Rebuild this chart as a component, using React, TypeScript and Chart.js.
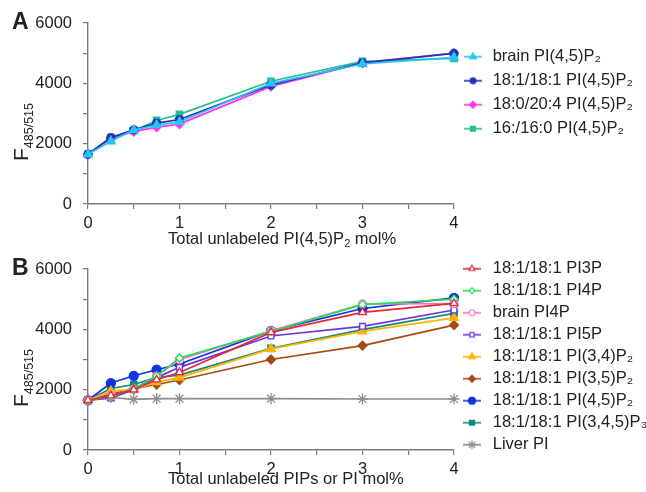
import React, { useEffect, useRef } from 'react';
import { Chart, registerables, PointElement } from 'chart.js';

Chart.register(...registerables);

// ---------- data ----------
const X_VALUES = [0, 0.25, 0.5, 0.75, 1, 2, 3, 4];
const X_TICKS = [0, 1, 2, 3, 4];
const Y_TICKS = [0, 2000, 4000, 6000];

const A_LABELS = ['brain PI(4,5)P₂', '18:1/18:1 PI(4,5)P₂', '18:0/20:4 PI(4,5)P₂', '16:/16:0 PI(4,5)P₂'];
const A_BRAIN_PIP2 = [1650, 2080, 2450, 2620, 2720, 4000, 4640, 4860];
const A_181_PIP2 = [1650, 2200, 2460, 2680, 2800, 3950, 4680, 4990];
const A_180_PIP2 = [1650, 2170, 2400, 2550, 2650, 3900, 4680, 5000];
const A_160_PIP2 = [1650, 2200, 2430, 2770, 2970, 4070, 4730, 4830];

const B_LABELS = [
  '18:1/18:1 PI3P',
  '18:1/18:1 PI4P',
  'brain PI4P',
  '18:1/18:1 PI5P',
  '18:1/18:1 PI(3,4)P₂',
  '18:1/18:1 PI(3,5)P₂',
  '18:1/18:1 PI(4,5)P₂',
  '18:1/18:1 PI(3,4,5)P₃',
  'Liver PI',
];
const B_PI3P = [1650, 1800, 2000, 2330, 2570, 3900, 4560, 4860];
const B_PI4P = [1650, 1780, 2030, 2450, 3050, 3930, 4820, 5000];
const B_BRAIN_PI4P = [1650, 1790, 2020, 2450, 3000, 3950, 4840, 4850];
const B_PI5P = [1650, 1720, 2000, 2400, 2740, 3780, 4100, 4640];
const B_PI34P2 = [1650, 1950, 2000, 2250, 2400, 3350, 3930, 4380];
const B_PI35P2 = [1650, 1850, 2030, 2170, 2320, 3000, 3460, 4140];
const B_PI45P2 = [1650, 2220, 2460, 2660, 2850, 3950, 4690, 5040];
const B_PIP3 = [1650, 2040, 2170, 2410, 2480, 3370, 3990, 4530];
const B_LIVER_PI = [1650, 1740, 1680, 1700, 1700, 1700, 1690, 1690];

// ---------- styles ----------
const FONT = "'Liberation Sans', Arial, Helvetica, sans-serif";
const TEXT = '#222222';
const AXIS = '#7a7a7a';

type SeriesStyle = { color: string; style: string; radius: number; open: boolean };

const A_STYLES: SeriesStyle[] = [
  { color: '#26c6f2', style: 'triangle', radius: 5, open: false },
  { color: '#2233bb', style: 'circle', radius: 4, open: false },
  { color: '#ff33ee', style: 'rectRot', radius: 4.5, open: false },
  { color: '#22c08e', style: 'rect', radius: 4.5, open: false },
];
const B_STYLES: SeriesStyle[] = [
  { color: '#e4283c', style: 'triangle', radius: 4.5, open: true },
  { color: '#22dd55', style: 'rectRot', radius: 4, open: true },
  { color: '#ff6ec4', style: 'circle', radius: 4, open: true },
  { color: '#6a35e0', style: 'rect', radius: 4, open: true },
  { color: '#ffb400', style: 'triangle', radius: 5, open: false },
  { color: '#a64a14', style: 'rectRot', radius: 4.5, open: false },
  { color: '#1133e0', style: 'circle', radius: 4.5, open: false },
  { color: '#118a80', style: 'rect', radius: 4.5, open: false },
  { color: '#8c8c8c', style: 'star', radius: 5.5, open: false },
];

function makeIcon(s: SeriesStyle, w: number): HTMLCanvasElement {
  const c = document.createElement('canvas');
  c.width = w;
  c.height = 12;
  const ctx = c.getContext('2d')!;
  ctx.strokeStyle = s.color;
  ctx.lineWidth = 1.6;
  ctx.beginPath();
  ctx.moveTo(0, 6);
  ctx.lineTo(w, 6);
  ctx.stroke();
  const p: any = new (PointElement as any)({
    x: w / 2,
    y: 6,
    options: {
      pointStyle: s.style,
      radius: Math.max(3, s.radius - 1),
      rotation: 0,
      borderWidth: 1.2,
      borderColor: s.color,
      backgroundColor: s.open ? '#ffffff' : s.color,
    },
  });
  p.draw(ctx, { left: -100, top: -100, right: 100, bottom: 100 });
  return c;
}

type PanelProps = {
  labels: string[];
  values: number[][];
  styles: SeriesStyle[];
  legendPadding: number;
  legendTitle: number;
  boxWidth: number;
  rightPad: number;
};

function Panel({ labels, values, styles, legendPadding, legendTitle, boxWidth, rightPad }: PanelProps) {
  const ref = useRef<HTMLCanvasElement>(null);
  useEffect(() => {
    if (!ref.current) return;
    const icons = styles.map((s) => makeIcon(s, 18));
    const datasets = labels.map((label, i) => ({
      label,
      data: X_VALUES.map((x, j) => ({ x, y: values[i][j] })),
      borderColor: styles[i].color,
      backgroundColor: styles[i].color,
      pointStyle: styles[i].style,
      pointRadius: styles[i].radius,
      pointBorderWidth: 1.3,
      pointBorderColor: styles[i].color,
      pointBackgroundColor: styles[i].open ? '#ffffff' : styles[i].color,
      borderWidth: 1.7,
      tension: 0,
      clip: false as any,
    }));
    const chart = new Chart(ref.current, {
      type: 'line',
      data: { datasets },
      options: {
        responsive: false,
        animation: false,
        events: [],
        layout: { padding: { top: 0, left: 0, right: rightPad, bottom: 0 } },
        scales: {
          x: {
            type: 'linear',
            min: 0,
            max: 4,
            afterFit: (s: any) => {
              s.height = 42;
            },
            ticks: {
              stepSize: 0.5,
              autoSkip: false,
              maxRotation: 0,
              padding: 5,
              color: TEXT,
              font: { family: FONT, size: 16.5 },
              callback: (v: any) => (X_TICKS.includes(Number(v)) ? String(v) : ''),
            },
            grid: { drawOnChartArea: false, drawTicks: true, tickLength: 5, color: AXIS, lineWidth: 1.2 },
            border: { color: AXIS, width: 1.4 },
          },
          y: {
            type: 'linear',
            min: 0,
            max: 6000,
            afterFit: (s: any) => {
              s.width = 88;
            },
            ticks: {
              stepSize: 1000,
              autoSkip: false,
              padding: 11,
              color: TEXT,
              font: { family: FONT, size: 16.5 },
              callback: (v: any) => (Y_TICKS.includes(Number(v)) ? String(v) : ''),
            },
            grid: { drawOnChartArea: false, drawTicks: true, tickLength: 5, color: AXIS, lineWidth: 1.2 },
            border: { color: AXIS, width: 1.4 },
          },
        },
        plugins: {
          title: { display: true, text: '', fullSize: false, padding: 0, font: { size: 23, lineHeight: 1 } },
          tooltip: { enabled: false },
          legend: {
            position: 'right',
            align: 'start',
            maxWidth: 192,
            title: { display: true, text: '', padding: 0, font: { size: legendTitle, lineHeight: 1 } },
            labels: {
              usePointStyle: true,
              pointStyleWidth: boxWidth,
              padding: legendPadding,
              color: TEXT,
              font: { family: FONT, size: 16.5 },
              generateLabels: (c: any) => {
                const items = (Chart.defaults.plugins.legend.labels as any).generateLabels(c);
                items.forEach((it: any, i: number) => {
                  it.pointStyle = icons[i];
                });
                return items;
              },
            },
          },
        },
      } as any,
    });
    return () => chart.destroy();
  }, []);
  return <canvas ref={ref} width={646} height={246} style={{ display: 'block' }} />;
}

const textBase: React.CSSProperties = {
  position: 'absolute',
  fontFamily: FONT,
  color: TEXT,
  whiteSpace: 'nowrap',
};

function YTitle({ top }: { top: number }) {
  return (
    <div
      style={{
        ...textBase,
        left: 10,
        top,
        fontSize: 21,
        lineHeight: '21px',
        transform: 'rotate(-90deg)',
        transformOrigin: 'left top',
      }}
    >
      F<span style={{ fontSize: 12.5, verticalAlign: '-5px' }}>485/515</span>
    </div>
  );
}

export default function App() {
  return (
    <div style={{ position: 'absolute', left: 0, top: 0, width: 646, height: 492, background: '#fff', overflow: 'hidden' }}>
      <div style={{ position: 'absolute', left: 0, top: 0 }}>
        <Panel
          labels={A_LABELS}
          values={[A_BRAIN_PIP2, A_181_PIP2, A_180_PIP2, A_160_PIP2]}
          styles={A_STYLES}
          legendPadding={7.5}
          legendTitle={41}
          boxWidth={23}
          rightPad={3}
        />
      </div>
      <div style={{ position: 'absolute', left: 0, top: 246 }}>
        <Panel
          labels={B_LABELS}
          values={[B_PI3P, B_PI4P, B_BRAIN_PI4P, B_PI5P, B_PI34P2, B_PI35P2, B_PI45P2, B_PIP3, B_LIVER_PI]}
          styles={B_STYLES}
          legendPadding={5.5}
          legendTitle={9}
          boxWidth={25}
          rightPad={0}
        />
      </div>
      <div style={{ ...textBase, left: 12, top: 10, fontSize: 23, fontWeight: 'bold', lineHeight: '23px' }}>A</div>
      <div style={{ ...textBase, left: 12, top: 256, fontSize: 23, fontWeight: 'bold', lineHeight: '23px' }}>B</div>
      <YTitle top={161} />
      <YTitle top={407} />
      <div style={{ ...textBase, left: 168, top: 230, fontSize: 16.5, lineHeight: '17px' }}>
        Total unlabeled PI(4,5)P<span style={{ fontSize: 11, verticalAlign: '-3px', lineHeight: 0 }}>2</span> mol%
      </div>
      <div style={{ ...textBase, left: 168, top: 470, fontSize: 16.5, lineHeight: '17px' }}>
        Total unlabeled PIPs or PI mol%
      </div>
    </div>
  );
}
